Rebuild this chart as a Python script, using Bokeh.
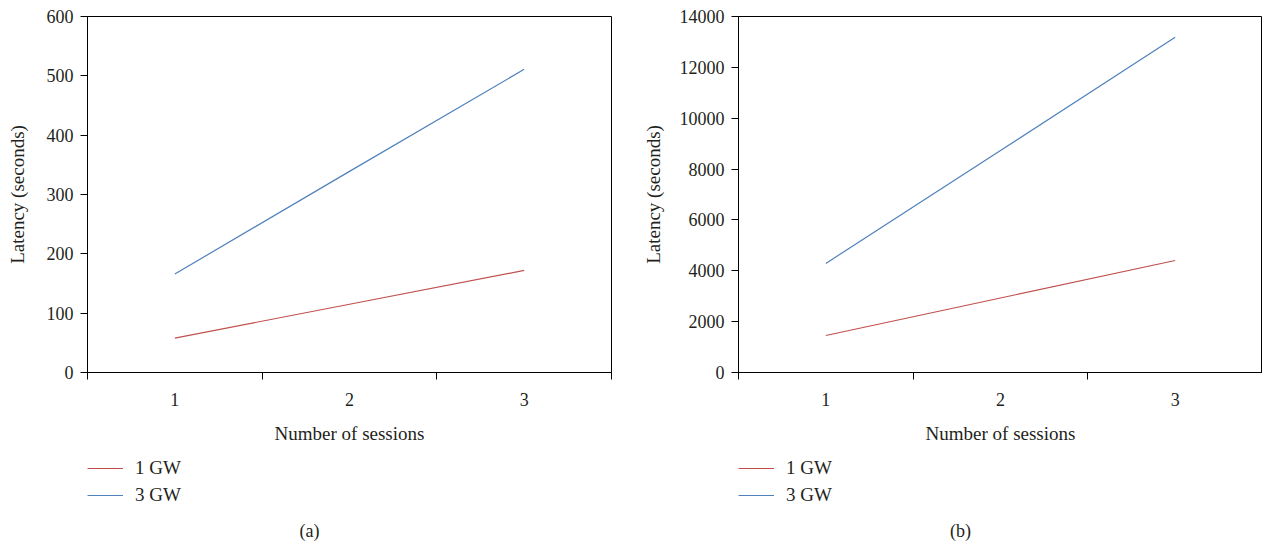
from bokeh.plotting import figure
from bokeh.layouts import row, column
from bokeh.models import (LinearAxis, FixedTicker, Range1d, Legend, LegendItem, Label)
from bokeh.embed import file_html
from bokeh.resources import INLINE

sessions = [1, 2, 3]
# panel (a)
a_1gw = [58, 115, 172]
a_3gw = [166, 339, 511]
# panel (b)
b_1gw = [1455, 2930, 4404]
b_3gw = [4290, 8730, 13180]

a_yticks = [0, 100, 200, 300, 400, 500, 600]
b_yticks = [0, 2000, 4000, 6000, 8000, 10000, 12000, 14000]
x_labels = {1: "1", 2: "2", 3: "3"}
x_bounds = [0.5, 1.5, 2.5, 3.5]
series_names = ["1 GW", "3 GW"]

FONT = "Liberation Serif"
TXT = "#231f20"
RED = "#c0504d"
BLUE = "#4f81bd"


def make_panel(y1, y3, ymax, yticks, left_border, right_border, ylab_standoff):
    p = figure(frame_width=524, frame_height=356, output_backend="svg",
               toolbar_location=None, x_range=Range1d(0.5, 3.5),
               y_range=Range1d(0, ymax), x_axis_location=None, y_axis_location=None,
               min_border_left=left_border, min_border_right=right_border,
               min_border_top=16, min_border_bottom=78)
    p.grid.visible = False
    p.outline_line_color = "black"
    p.outline_line_width = 1
    p.background_fill_color = "white"
    p.border_fill_color = "white"

    yax = LinearAxis(ticker=FixedTicker(ticks=yticks), axis_label="Latency (seconds)")
    yax.major_tick_in = 0
    yax.major_tick_out = 7
    yax.minor_tick_out = 0
    yax.minor_tick_in = 0
    yax.axis_line_color = "black"
    yax.major_label_text_font = FONT
    yax.major_label_text_font_size = "18px"
    yax.major_label_text_color = TXT
    yax.axis_label_text_font = FONT
    yax.axis_label_text_font_size = "19px"
    yax.axis_label_text_font_style = "normal"
    yax.axis_label_text_color = TXT
    yax.major_label_standoff = 7
    yax.axis_label_standoff = ylab_standoff
    p.add_layout(yax, "left")

    xax = LinearAxis(ticker=FixedTicker(ticks=x_bounds))
    xax.major_label_overrides = {b: "" for b in x_bounds}
    xax.major_tick_in = 0
    xax.major_tick_out = 7
    xax.minor_tick_in = 0
    xax.minor_tick_out = 0
    xax.major_label_text_font_size = "1px"
    xax.major_label_standoff = 0
    xax.axis_line_color = "black"
    p.add_layout(xax, "below")

    xlab = LinearAxis(ticker=FixedTicker(ticks=sessions), axis_label="Number of sessions")
    xlab.major_label_overrides = x_labels
    xlab.axis_line_color = None
    xlab.major_tick_line_color = None
    xlab.minor_tick_line_color = None
    xlab.major_tick_out = 0
    xlab.major_tick_in = 0
    xlab.major_label_text_font = FONT
    xlab.major_label_text_font_size = "18px"
    xlab.major_label_text_color = TXT
    xlab.major_label_standoff = 13
    xlab.axis_label_text_font = FONT
    xlab.axis_label_text_font_size = "19px"
    xlab.axis_label_text_font_style = "normal"
    xlab.axis_label_text_color = TXT
    xlab.axis_label_standoff = 14
    p.add_layout(xlab, "below")

    p.line(sessions, y1, line_color=RED, line_width=1.2)
    p.line(sessions, y3, line_color=BLUE, line_width=1.2)
    return p


def make_legend(y1, y3, caption, left_border, right_border):
    # legend strip: the series lines lie outside this strip's x range, only their keys show
    q = figure(frame_width=524, frame_height=93, output_backend="svg",
               toolbar_location=None, x_range=Range1d(100, 624), y_range=Range1d(0, 93),
               x_axis_location=None, y_axis_location=None,
               min_border_left=left_border, min_border_right=right_border,
               min_border_top=0, min_border_bottom=0)
    q.grid.visible = False
    q.outline_line_color = None
    q.border_fill_color = "white"
    q.background_fill_color = "white"
    r1 = q.line(sessions, y1, line_color=RED, line_width=1.2)
    r3 = q.line(sessions, y3, line_color=BLUE, line_width=1.2)
    leg = Legend(items=[LegendItem(label=series_names[0], renderers=[r1]),
                        LegendItem(label=series_names[1], renderers=[r3])],
                 location=(0, 37), orientation="vertical")
    leg.border_line_color = None
    leg.background_fill_alpha = 0
    leg.padding = 0
    leg.margin = 0
    leg.spacing = 5
    leg.glyph_width = 36
    leg.glyph_height = 20
    leg.label_height = 20
    leg.label_standoff = 12
    leg.label_text_font = FONT
    leg.label_text_font_size = "19px"
    leg.label_text_color = TXT
    leg.label_text_baseline = "middle"
    q.add_layout(leg, "center")
    cap = Label(x=322, y=13, text=caption, text_font=FONT, text_font_size="18px",
                text_color=TXT, text_align="center", text_baseline="middle")
    q.add_layout(cap)
    return q


pa = make_panel(a_1gw, a_3gw, 600, a_yticks, 87, 28, 16)
pb = make_panel(b_1gw, b_3gw, 14000, b_yticks, 99, 0, 13)
la = make_legend(a_1gw, a_3gw, "(a)", 87, 28)
lb = make_legend(b_1gw, b_3gw, "(b)", 99, 0)

layout = column(row(pa, pb, spacing=0), row(la, lb, spacing=0), spacing=0)
open("out.html", "w").write(file_html(layout, INLINE))
